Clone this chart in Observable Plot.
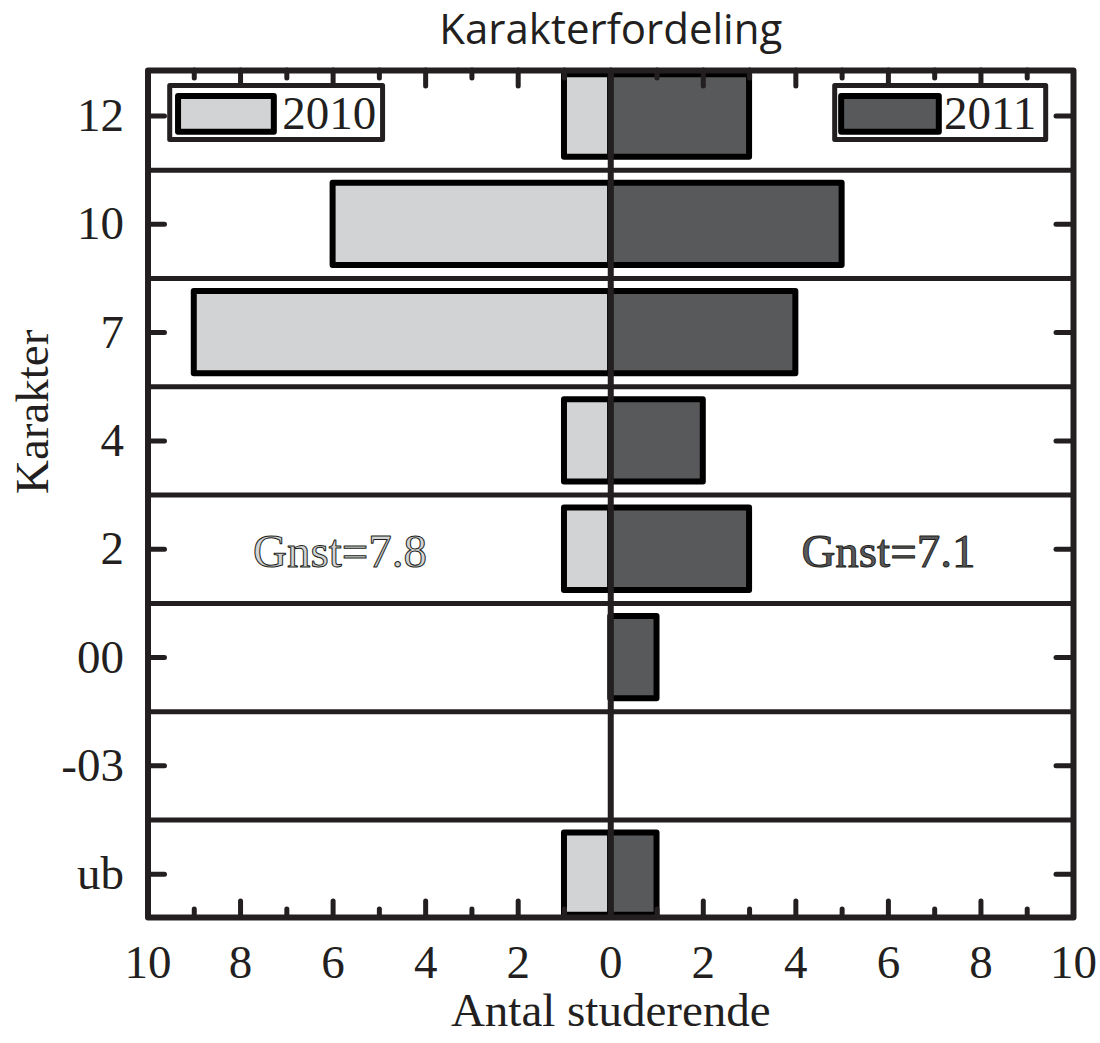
<!DOCTYPE html>
<html><head><meta charset="utf-8">
<script src="https://cdn.jsdelivr.net/npm/d3@7"></script>
<script src="https://cdn.jsdelivr.net/npm/@observablehq/plot@0.6"></script>
<style>body{margin:0;background:#fff}</style>
</head><body><div id="chart"></div>
<script>
// ---- data ----
const grades = ["12", "10", "7", "4", "2", "00", "-03", "ub"];
const count2010 = [1, 6, 9, 1, 1, 0, 0, 1];
const count2011 = [3, 5, 4, 2, 3, 1, 0, 1];
const years = ["2010", "2011"];
const averageLabels = ["Gnst=7.8", "Gnst=7.1"];
const xTickValues = [-10, -8, -6, -4, -2, 0, 2, 4, 6, 8, 10];
const minorTickValues = [-9, -7, -5, -3, -1, 1, 3, 5, 7, 9];

// ---- style ----
const ink = "#231f20";
const light = "#d1d3d4";
const dark = "#58595b";
const Y0 = -0.42, Y1 = 7.40;
const half = 0.38;

const bars2010 = grades.map((g, i) => ({i, v: count2010[i]})).filter(d => d.v > 0);
const bars2011 = grades.map((g, i) => ({i, v: count2011[i]})).filter(d => d.v > 0);
const separators = d3.range(grades.length - 1).map(i => i + 0.5);
const idx = d3.range(grades.length);
const majorInner = xTickValues.filter(v => Math.abs(v) < 10);

const legend = [
  {year: years[0], fill: light, bx1: -9.52, bx2: -4.92, sx1: -9.34, sx2: -7.27, tx: -7.10},
  {year: years[1], fill: dark,  bx1: 4.85,  bx2: 9.41,  sx1: 4.99,  sx2: 7.10,  tx: 7.20}
];
const averages = [
  {label: averageLabels[0], x: -5.85, fill: light},
  {label: averageLabels[1], x: 6.0, fill: dark}
];

const serif = "'Liberation Serif', 'Times New Roman', serif";
const fs = 47;

const plot = Plot.plot({
  width: 1100, height: 1043,
  marginLeft: 147.5, marginRight: 27, marginTop: 70, marginBottom: 126,
  x: {domain: [-10, 10]},
  y: {domain: [Y0, Y1], reverse: true},
  style: {fontFamily: serif, fontSize: fs + "px", color: ink, background: "#fff"},
  marks: [
    Plot.ruleY(separators, {y: d => d, x1: -10, x2: 10, stroke: ink, strokeWidth: 5}),
    Plot.rect(bars2010, {x1: d => -d.v, x2: 0, y1: d => d.i - half, y2: d => d.i + half,
      fill: light, stroke: "#000", strokeWidth: 6, strokeLinejoin: "round"}),
    Plot.rect(bars2011, {x1: 0, x2: d => d.v, y1: d => d.i - half, y2: d => d.i + half,
      fill: dark, stroke: "#000", strokeWidth: 6, strokeLinejoin: "round"}),
    Plot.ruleX([0], {x: d => d, y1: Y0, y2: Y1, stroke: ink, strokeWidth: 6}),
    // ticks
    Plot.ruleX(majorInner, {x: d => d, y1: Y1, y2: Y1 - 0.148, stroke: ink, strokeWidth: 5, strokeLinecap: "round"}),
    Plot.ruleX(minorTickValues, {x: d => d, y1: Y1, y2: Y1 - 0.074, stroke: ink, strokeWidth: 5, strokeLinecap: "round"}),
    Plot.ruleX(majorInner, {x: d => d, y1: Y0, y2: Y0 + 0.148, stroke: ink, strokeWidth: 5, strokeLinecap: "round"}),
    Plot.ruleX(minorTickValues, {x: d => d, y1: Y0, y2: Y0 + 0.074, stroke: ink, strokeWidth: 5, strokeLinecap: "round"}),
    Plot.ruleY(idx, {y: d => d, x1: -10, x2: -10 + 0.367, stroke: ink, strokeWidth: 5, strokeLinecap: "round"}),
    Plot.ruleY(idx, {y: d => d, x1: 10 - 0.367, x2: 10, stroke: ink, strokeWidth: 5, strokeLinecap: "round"}),
    Plot.frame({stroke: ink, strokeWidth: 6, strokeLinejoin: "round"}),
    Plot.axisX({ticks: xTickValues, tickSize: 0, tickPadding: 27, tickFormat: d => Math.abs(d), label: null, fontSize: fs}),
    Plot.axisY({ticks: idx, tickSize: 0, tickPadding: 24, tickFormat: i => grades[i], label: null, fontSize: fs}),
    // legend
    Plot.rect(legend, {x1: "bx1", x2: "bx2", y1: -0.277, y2: 0.222, fill: "#fff", stroke: ink, strokeWidth: 5, strokeLinejoin: "round"}),
    Plot.rect(legend, {x1: "sx1", x2: "sx2", y1: -0.18, y2: 0.15, fill: d => d.fill, stroke: "#000", strokeWidth: 6, strokeLinejoin: "round"}),
    Plot.text(legend, {x: "tx", y: -0.02, text: "year", textAnchor: "start", lineAnchor: "middle", fill: ink, fontSize: fs}),
    // averages
    Plot.text(averages, {x: "x", y: 4, dy: 3, text: "label", fill: d => d.fill, stroke: ink, strokeWidth: 1, paintOrder: "normal", fontSize: fs}),
    // titles
    Plot.text(["Karakterfordeling"], {text: d => d, frameAnchor: "top", dy: -27, lineAnchor: "bottom",
      fontFamily: "'Open Sans', sans-serif", fontSize: 42, fill: ink}),
    Plot.text(["Antal studerende"], {text: d => d, frameAnchor: "bottom", dy: 108, lineAnchor: "bottom", fontSize: fs, fill: ink}),
    Plot.text(["Karakter"], {text: d => d, frameAnchor: "left", dx: -100.5, rotate: -90, lineAnchor: "bottom", fontSize: fs, fill: ink})
  ]
});
document.getElementById("chart").appendChild(plot);
</script>
</body></html>
